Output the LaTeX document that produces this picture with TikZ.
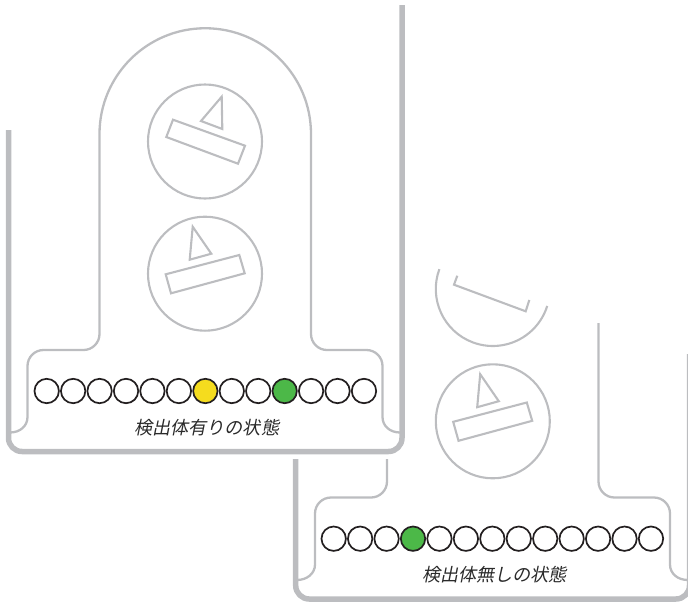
\documentclass[tikz,border=0pt]{standalone}
\usepackage{fontspec}
\newfontfamily\jpfont[FakeSlant=0.2]{Noto Sans CJK JP}
\definecolor{framegray}{HTML}{BCBDC0}
\definecolor{ledline}{HTML}{231F20}
\definecolor{ledyellow}{HTML}{F5DC1E}
\definecolor{ledgreen}{HTML}{4CB848}
\definecolor{labeltext}{HTML}{2A2A2A}
\tikzset{
  thickframe/.style={draw=framegray,line width=5.5pt,line join=round},
  thinframe/.style={draw=framegray,line width=2.3pt,line join=miter},
  fineframe/.style={draw=framegray,line width=2.1pt,line join=miter},
  led/.style={circle,draw=ledline,line width=1.7pt,minimum size=24.4pt,inner sep=0pt,fill=white},
  statelabel/.style={font=\jpfont\fontsize{18.1}{20}\selectfont,text=labeltext,inner sep=0pt},
}
\begin{document}
\begin{tikzpicture}[x=1pt,y=-1pt]
\useasboundingbox (0,0) rectangle (688,603);
\clip (0,0) rectangle (688,603);
% --- left device
\draw[thickframe] (8.5,130) -- (8.5,438) arc[start angle=180,end angle=90,radius=13.5] -- (388.5,451.5) arc[start angle=90,end angle=0,radius=13.5] -- (402,5);
\draw[thinframe] (10,432.5) .. controls (20,432.5) and (27.5,426) .. (27.5,417) -- (27.5,366)
  arc[start angle=180,end angle=270,radius=16] -- (83.5,350)
  arc[start angle=90,end angle=0,radius=16] -- (99.5,134)
  arc[start angle=180,end angle=360,radius=105.75] -- (311,334)
  arc[start angle=180,end angle=90,radius=16] -- (366.5,350)
  arc[start angle=270,end angle=360,radius=16] -- (382.5,417)
  .. controls (382.5,426) and (390,432.5) .. (400,432.5);
\draw[fineframe] (205,141.5) circle[radius=57];
\draw[fineframe] (205,273.7) circle[radius=57];
\draw[fineframe] (173,119.7) -- (245,145.7) -- (238,163.7) -- (166.3,137) -- cycle;
\draw[fineframe] (221.7,96.7) -- (222.3,129) -- (201,121) -- cycle;
\draw[fineframe] (165.7,274.3) -- (239.3,255) -- (244.7,273.3) -- (171,293.3) -- cycle;
\draw[fineframe] (192.7,226.7) -- (211.3,253.7) -- (189.7,259.7) -- cycle;
\foreach \i in {0,...,12} {
  \pgfmathsetmacro{\lx}{46.7+26.44*\i}
  \ifnum\i=6 \def\lc{ledyellow}\else\ifnum\i=9 \def\lc{ledgreen}\else\def\lc{white}\fi\fi
  \node[led,fill=\lc] (a\i) at (\lx,391) {};
}
\node[statelabel] (labela) at (206.7,427.5) {検出体有りの状態};
% --- right device
\draw[thickframe] (295.7,459) -- (295.7,585.5) arc[start angle=180,end angle=90,radius=13.5] -- (676,599) arc[start angle=90,end angle=0,radius=13.5] -- (689.5,354);
\draw[thinframe] (297,580) .. controls (307,580) and (315,573.5) .. (315,564.5) -- (315,513.5)
  arc[start angle=180,end angle=270,radius=16] -- (371,497.5)
  arc[start angle=90,end angle=0,radius=16] -- (387,459);
\draw[thinframe] (598.5,323) -- (598.5,481.5)
  arc[start angle=180,end angle=90,radius=16] -- (654,497.5)
  arc[start angle=270,end angle=360,radius=16] -- (670,564.5)
  .. controls (670,573.5) and (677.5,580) .. (688,580);
\draw[fineframe] (492.8,289) ++(200.4:57) arc[start angle=200.4,end angle=17.3,radius=57];
\draw[fineframe] (492.8,421.3) circle[radius=57];
\draw[fineframe] (457.3,275.7) -- (454,284.7) -- (525.7,311.3) -- (529.3,300);
\draw[fineframe] (453.2,421.8) -- (526.8,402.5) -- (532.2,420.8) -- (458.5,440.8) -- cycle;
\draw[fineframe] (480.2,374.2) -- (498.8,401.2) -- (477.2,407.2) -- cycle;
\foreach \i in {0,...,12} {
  \pgfmathsetmacro{\lx}{333.7+26.44*\i}
  \ifnum\i=3 \def\lc{ledgreen}\else\def\lc{white}\fi
  \node[led,fill=\lc] (b\i) at (\lx,538.7) {};
}
\node[statelabel] (labelb) at (494.5,574.5) {検出体無しの状態};
\end{tikzpicture}
\end{document}
